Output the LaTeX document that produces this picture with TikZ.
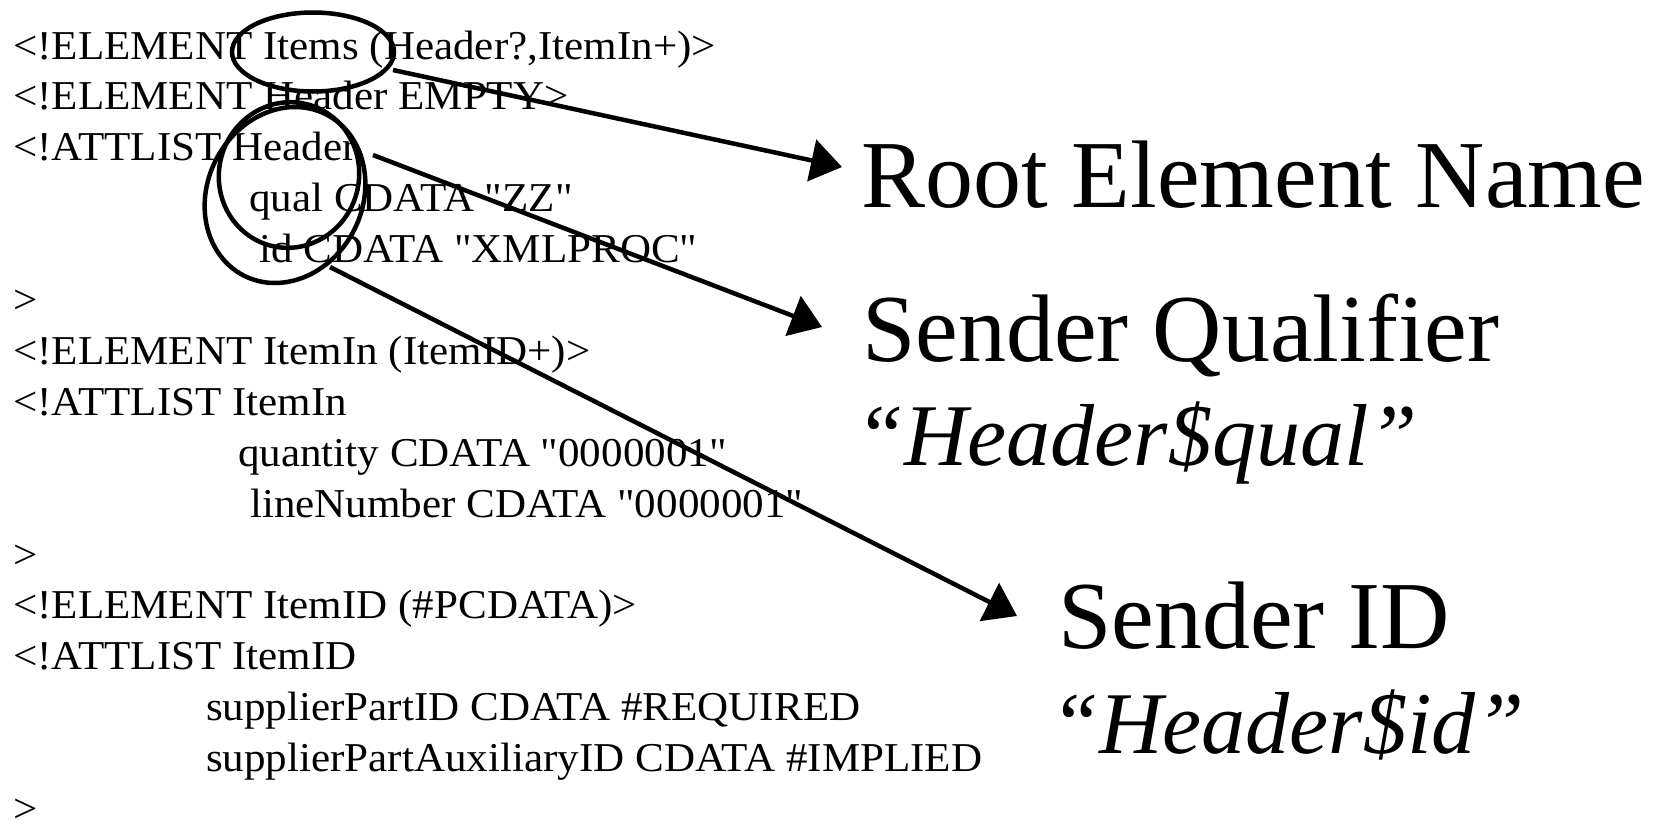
\documentclass[tikz,border=0pt]{standalone}
\usepackage{fontspec}
\setmainfont{Liberation Serif}
\newfontfamily\dtdfont{Liberation Serif}[FakeStretch=1.05, Ligatures=TeXOff]
\usetikzlibrary{shapes.geometric,arrows.meta,positioning,calc}
\begin{document}
\begin{tikzpicture}[x=1pt, y=-1pt]
	\tikzstyle{dtdline} = [anchor=base west, inner sep=0pt, font=\dtdfont\fontsize{41}{49}\selectfont]
	\tikzstyle{bigtext} = [anchor=base west, inner sep=0pt, font=\fontsize{96}{115}\selectfont]
	\tikzstyle{bigattr} = [anchor=base west, inner sep=0pt, font=\fontsize{88}{105}\selectfont\itshape]
	\tikzstyle{ring} = [ellipse, draw=black, line width=4.5pt, inner sep=0pt]
	\tikzstyle{pointer} = [line width=4.5pt, -{Triangle[length=31pt, width=42pt]}]
	\useasboundingbox (0,0) rectangle (1659,825);
	% Items and Header
	\node (l1) at (13,59) [dtdline] {<!ELEMENT Items (Header?,ItemIn+)>};
	\node (l2) at ($(l1.base west)+(0,50.9)$) [dtdline] {<!ELEMENT Header EMPTY>};
	\node (l3) at ($(l2.base west)+(0,50.9)$) [dtdline] {<!ATTLIST Header};
	\node (l4) at ($(l3.base west)+(236,50.9)$) [dtdline] {qual CDATA "ZZ"};
	\node (l5) at ($(l4.base west)+(10,50.9)$) [dtdline] {id CDATA "XMLPROC"};
	\node (l6) at ($(l3.base west)+(0,152.7)$) [dtdline] {>};
	% ItemIn
	\node (l7) at ($(l6.base west)+(0,50.9)$) [dtdline] {<!ELEMENT ItemIn (ItemID+)>};
	\node (l8) at ($(l7.base west)+(0,50.9)$) [dtdline] {<!ATTLIST ItemIn};
	\node (l9) at ($(l8.base west)+(225,50.9)$) [dtdline] {quantity CDATA "0000001"};
	\node (l10) at ($(l9.base west)+(12,50.9)$) [dtdline] {lineNumber CDATA "0000001"};
	\node (l11) at ($(l8.base west)+(0,152.7)$) [dtdline] {>};
	% ItemID
	\node (l12) at ($(l11.base west)+(0,50.9)$) [dtdline] {<!ELEMENT ItemID (\#PCDATA)>};
	\node (l13) at ($(l12.base west)+(0,50.9)$) [dtdline] {<!ATTLIST ItemID};
	\node (l14) at ($(l13.base west)+(193,50.9)$) [dtdline] {supplierPartID CDATA \#REQUIRED};
	\node (l15) at ($(l14.base west)+(0,50.9)$) [dtdline] {supplierPartAuxiliaryID CDATA \#IMPLIED};
	\node (l16) at ($(l13.base west)+(0,152.7)$) [dtdline] {>};
	% rings
	\node (items_ring) at (313,52) [ring, minimum width=162pt, minimum height=79pt] {};
	\node (qual_ring) at (289,175) [ring, minimum width=146pt, minimum height=140pt, rotate=75] {};
	\node (id_ring) at (285,195) [ring, minimum width=181pt, minimum height=155pt, rotate=63] {};
	% labels
	\node (root) at (861,207) [bigtext] {Root Element Name};
	\node (sender_qual) at (862,361) [bigtext] {Sender Qualifier};
	\node (qual_attr) at (855,465) [bigattr] {“Header\$qual”};
	\node (sender_id) at (1058,648) [bigtext] {Sender ID};
	\node (id_attr) at (1050,753) [bigattr] {“Header\$id”};
	% pointers
	\draw[pointer] ($(items_ring.center)+(80,18)$) -- ($(root.base west)+(-19,-40)$);
	\draw[pointer] ($(qual_ring.center)+(84,-20)$) -- ($(sender_qual.base west)+(-40,-34)$);
	\draw[pointer] ($(id_ring.center)+(45,72)$) -- ($(sender_id.base west)+(-41,-32)$);
\end{tikzpicture}
\end{document}
